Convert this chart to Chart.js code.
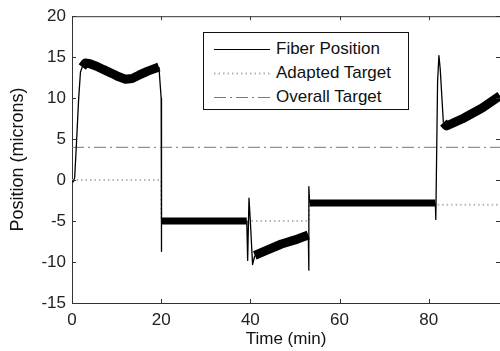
<!DOCTYPE html>
<html>
<head>
<meta charset="utf-8">
<script src="https://cdn.jsdelivr.net/npm/chart.js@4.4.1/dist/chart.umd.min.js"></script>
<style>
  html, body { margin: 0; padding: 0; background: #fff; }
  #wrap { position: relative; width: 500px; height: 351px; }
  #legend {
    position: absolute; left: 203px; top: 32px; width: 204px; height: 76px;
    border: 1px solid #111; background: #fff;
    font-family: "Liberation Sans", Arial, sans-serif; font-size: 17px; color: #111;
  }
  .row { position: absolute; left: 0; width: 100%; height: 24px; line-height: 24px; }
  .row svg { position: absolute; left: 10px; top: 11px; }
  .row span { position: absolute; left: 72px; white-space: nowrap; }
</style>
</head>
<body>
<div id="wrap">
  <canvas id="chart"></canvas>
  <div id="legend">
    <div class="row" style="top:4px">
      <svg width="56" height="3"><line x1="0" y1="1.5" x2="56" y2="1.5" stroke="#000" stroke-width="1"/></svg>
      <span>Fiber Position</span>
    </div>
    <div class="row" style="top:28px">
      <svg width="56" height="3"><line x1="0" y1="1.5" x2="56" y2="1.5" stroke="#b5b5b5" stroke-width="2" stroke-dasharray="1.5 3"/></svg>
      <span>Adapted Target</span>
    </div>
    <div class="row" style="top:52px">
      <svg width="56" height="3"><line x1="0" y1="1.5" x2="56" y2="1.5" stroke="#777" stroke-width="1" stroke-dasharray="12 4 2 4"/></svg>
      <span>Overall Target</span>
    </div>
  </div>
</div>
<script>
// --- Data ---
const fiberTime = [0, 0.3, 0.6, 1.0, 1.5, 1.9, 2.3, 3.0, 4, 5.5, 7, 9, 10.5, 12, 13.5, 15, 17, 19.5, 19.8, 20.0, 20.05, 20.1,
  39.2, 39.4, 39.7, 40.0, 40.5, 41, 44, 47, 50, 53, 53.1, 53.15, 53.3,
  81.5, 81.6, 82.0, 82.3, 82.6, 83.3, 84, 88, 92, 96];
const fiberValue = [0, -0.2, 0.3, 4.5, 10, 13.2, 13.8, 14.3, 14.2, 13.9, 13.5, 13.0, 12.6, 12.3, 12.4, 12.8, 13.3, 13.8, 11.5, 10, -8.7, -5,
  -5, -9.8, -2.2, -5, -10.3, -9.2, -8.5, -7.8, -7.3, -6.7, -11, -0.8, -2.8,
  -2.8, -4.8, 12, 15.2, 13.5, 7, 6.6, 7.6, 8.8, 10.3];

const adaptedTime = [0, 20, 53.2, 96];
const adaptedValue = [0, -5, -3, -3];

const overallTime = [0, 96];
const overallValue = [4, 4];

const xTicks = [0, 20, 40, 60, 80];
const yTicks = [-15, -10, -5, 0, 5, 10, 15, 20];

const toPoints = (xs, ys) => xs.map((x, i) => ({ x: x, y: ys[i] }));

// MATLAB-style inward tick marks plus the top frame line
const innerTicks = {
  id: 'innerTicks',
  afterDatasetsDraw(chart) {
    const { ctx, chartArea: a, scales: { x, y } } = chart;
    ctx.save();
    ctx.strokeStyle = '#333';
    ctx.lineWidth = 1;
    ctx.beginPath();
    xTicks.forEach(v => {
      const px = Math.round(x.getPixelForValue(v)) + 0.5;
      ctx.moveTo(px, a.bottom); ctx.lineTo(px, a.bottom - 4);
      ctx.moveTo(px, a.top); ctx.lineTo(px, a.top + 4);
    });
    yTicks.forEach(v => {
      const py = Math.round(y.getPixelForValue(v)) + 0.5;
      ctx.moveTo(a.left, py); ctx.lineTo(a.left + 4, py);
      ctx.moveTo(a.right, py); ctx.lineTo(a.right - 4, py);
    });
    ctx.moveTo(a.left, a.top + 0.5); ctx.lineTo(a.right, a.top + 0.5);
    ctx.stroke();
    ctx.restore();
  }
};

const font = { family: '"Liberation Sans", Arial, sans-serif', size: 17 };

new Chart(document.getElementById('chart'), {
  type: 'line',
  data: {
    datasets: [{
      label: 'Fiber Position',
      data: toPoints(fiberTime, fiberValue),
      borderColor: '#000',
      borderWidth: 1.3,
      borderCapStyle: 'butt',
      borderJoinStyle: 'round',
      pointRadius: 0,
      segment: {
        // the noisy plateaus show as a thick band
        borderWidth: c => {
          const dx = c.p1.parsed.x - c.p0.parsed.x;
          const dy = Math.abs(c.p1.parsed.y - c.p0.parsed.y);
          if (!(dx > 0.4 && dy / dx < 2)) return 1.3;
          return Math.abs(c.p0.parsed.y) < 6 ? 7 : 9;
        }
      }
    }, {
      label: 'Adapted Target',
      data: toPoints(adaptedTime, adaptedValue),
      borderColor: '#b5b5b5',
      borderWidth: 2,
      borderDash: [1.5, 3],
      stepped: true,
      pointRadius: 0
    }, {
      label: 'Overall Target',
      data: toPoints(overallTime, overallValue),
      borderColor: '#777',
      borderWidth: 1,
      borderDash: [12, 4, 2, 4],
      pointRadius: 0
    }]
  },
  options: {
    responsive: true,
    maintainAspectRatio: false,
    animation: false,
    layout: { padding: { top: 16, right: 0, bottom: 0, left: 0 } },
    plugins: { legend: { display: false }, tooltip: { enabled: false } },
    scales: {
      x: {
        type: 'linear', min: 0, max: 96,
        afterBuildTicks: s => { s.ticks = xTicks.map(v => ({ value: v })); },
        afterFit: s => { s.height = 48; },
        grid: { drawOnChartArea: false, drawTicks: false },
        border: { color: '#333', width: 1 },
        ticks: { font: font, color: '#222', padding: 7, maxRotation: 0 },
        title: { display: true, text: 'Time (min)', font: font, color: '#111', padding: { top: 0, bottom: 1 } }
      },
      y: {
        type: 'linear', min: -15, max: 20,
        afterBuildTicks: s => { s.ticks = yTicks.map(v => ({ value: v })); },
        afterFit: s => { s.width = 72; },
        grid: { drawOnChartArea: false, drawTicks: false },
        border: { color: '#333', width: 1 },
        ticks: { font: font, color: '#222', padding: 6 },
        title: { display: true, text: 'Position (microns)', font: { family: font.family, size: 18 }, color: '#111', padding: { top: 7, bottom: 0 } }
      }
    }
  },
  plugins: [innerTicks]
});
</script>
</body>
</html>
